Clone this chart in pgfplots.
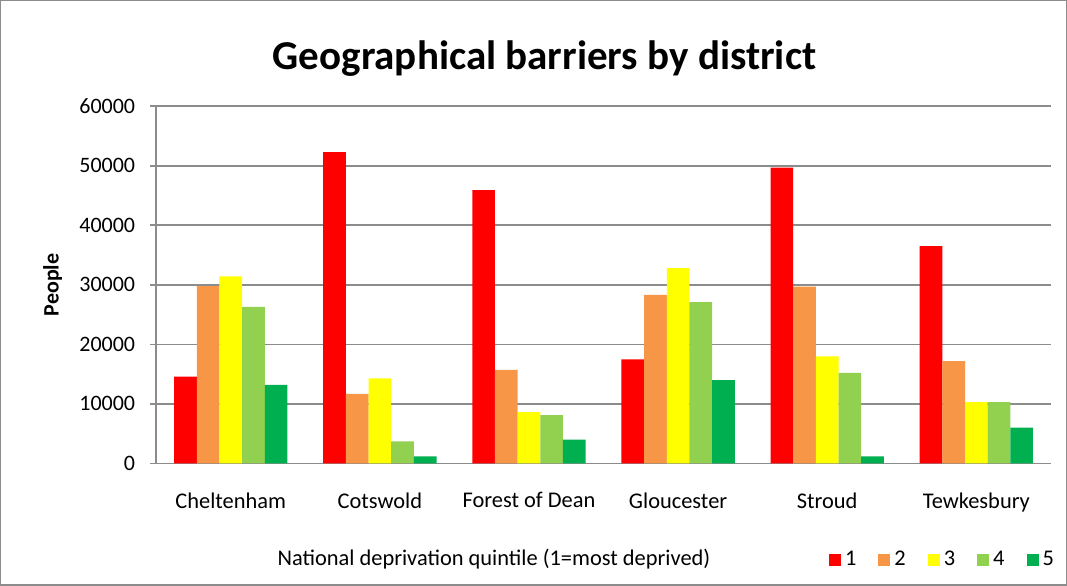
\documentclass[border=0pt]{standalone}
\usepackage{fontspec}
\setmainfont{Carlito}
\usepackage{pgfplots}
\pgfplotsset{compat=1.18}
\definecolor{q1}{HTML}{FF0000}
\definecolor{q2}{HTML}{F79646}
\definecolor{q3}{HTML}{FFFF00}
\definecolor{q4}{HTML}{92D050}
\definecolor{q5}{HTML}{00B050}
\definecolor{gridgray}{HTML}{8C8C8C}

\begin{document}
\begin{tikzpicture}
  \begin{axis}[
      scale only axis,
      width=447pt, height=178.5pt,
      ybar=0pt, bar width=0.152,
      xmin=-0.5, xmax=5.5,
      ymin=0, ymax=60000,
      ytick={0,10000,...,60000},
      xtick={0,...,5},
      xticklabels={Cheltenham, Cotswold, Forest of Dean, Gloucester, Stroud, Tewkesbury},
      extra x ticks={-0.5,0.5,...,5.5},
      extra x tick labels={},
      extra x tick style={major tick length=3pt, grid=none},
      axis lines=left,
      axis line style={-, gridgray, line width=0.8pt},
      tick align=outside,
      major tick length=3pt,
      every tick/.style={gridgray, line width=0.8pt},
      x tick style={draw=none},
      ymajorgrids=true,
      grid style={gridgray, line width=0.8pt},
      scaled y ticks=false,
      /pgf/number format/assume math mode=true,
      yticklabel style={/pgf/number format/1000 sep={}, font=\fontsize{11}{13}\selectfont, xshift=-4pt},
      xticklabel style={font=\fontsize{11.2}{13}\selectfont, yshift=-8pt},
      ylabel={People},
      ylabel style={at={(axis description cs:-0.1158,0.5)}, anchor=center, font=\bfseries\fontsize{11}{13}\selectfont},
      xlabel={National deprivation quintile (1=most deprived)},
      xlabel style={at={(axis description cs:0.3775,-0.268)}, anchor=center, font=\fontsize{11.2}{13}\selectfont},
      legend columns=5,
      legend style={at={(axis description cs:0.88,-0.27)}, anchor=center, draw=none,
        font=\fontsize{11.2}{13}\selectfont,
        /tikz/every even column/.append style={column sep=9pt}},
      legend image code/.code={\fill[#1] (0pt,-2.85pt) rectangle (6pt,2.85pt);},
    ]
    \addplot[fill=q1, draw=none] coordinates {(0,14600) (1,52300) (2,45900) (3,17500) (4,49700) (5,36500)};
    \addlegendentry{1}
    \addplot[fill=q2, draw=none] coordinates {(0,29800) (1,11700) (2,15700) (3,28300) (4,29700) (5,17200)};
    \addlegendentry{2}
    \addplot[fill=q3, draw=none] coordinates {(0,31400) (1,14300) (2,8600) (3,32800) (4,18000) (5,10300)};
    \addlegendentry{3}
    \addplot[fill=q4, draw=none] coordinates {(0,26300) (1,3700) (2,8100) (3,27100) (4,15200) (5,10300)};
    \addlegendentry{4}
    \addplot[fill=q5, draw=none] coordinates {(0,13200) (1,1200) (2,4000) (3,14000) (4,1200) (5,6000)};
    \addlegendentry{5}
  \end{axis}
  \node[font=\bfseries\fontsize{20.5}{24}\selectfont] at (194pt,202.5pt) {Geographical barriers by district};
  \draw[gridgray, line width=0.7pt] (-77.7pt,-60.7pt) rectangle (454.7pt,231.2pt);
\end{tikzpicture}
\end{document}
